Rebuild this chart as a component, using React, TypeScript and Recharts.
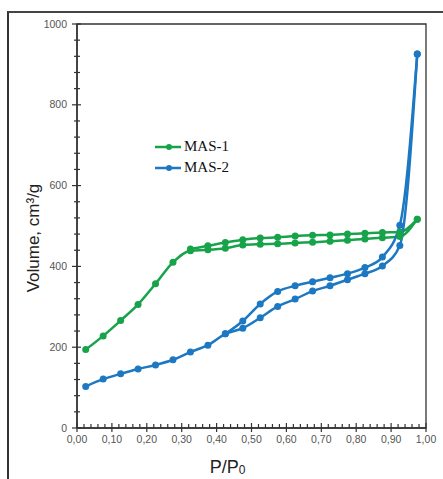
import { LineChart, Line, XAxis, YAxis, ReferenceArea, Legend, Label } from 'recharts';

// relative pressure points (adsorption / desorption branches)
const pAds = [0.025, 0.075, 0.125, 0.175, 0.225, 0.275, 0.325, 0.375, 0.425, 0.475,
  0.525, 0.575, 0.625, 0.675, 0.725, 0.775, 0.825, 0.875, 0.925, 0.975];
const pDes1 = [0.325, 0.375, 0.425, 0.475, 0.525, 0.575, 0.625, 0.675, 0.725, 0.775, 0.825, 0.875, 0.925, 0.975];
const pDes2 = [0.425, 0.475, 0.525, 0.575, 0.625, 0.675, 0.725, 0.775, 0.825, 0.875, 0.925, 0.975];

// volume, cm3/g
const mas1Ads = [194, 228, 266, 306, 357, 410, 439, 441, 445, 453, 455, 456, 458, 460, 462, 465, 468, 471, 474, 517];
const mas1Des = [443, 451, 459, 466, 470, 472, 475, 477, 478, 480, 482, 484, 485, 517];
const mas2Ads = [103, 121, 134, 146, 156, 169, 188, 205, 233, 247, 273, 301, 319, 339, 352, 367, 382, 401, 452, 926];
const mas2Des = [233, 265, 307, 338, 352, 362, 372, 382, 397, 423, 502, 926];

const seriesNames = ['MAS-1', 'MAS-2'];
const GREEN = '#17a34a';
const BLUE = '#1c78c2';

// axis ticks: labelled majors plus unlabelled minors
const yTicks = Array.from({ length: 26 }, (_, i) => i * 40);
const xTicks = Array.from({ length: 51 }, (_, i) => Math.round(i * 2) / 100);

const toRows = (ps: number[], vs: number[]) => ps.map((p, i) => ({ p, v: vs[i] }));

const TICK_SIZE = 4;
const TICK_MARGIN = 6;
const AXIS = '#333';
const tickFont = { fontFamily: 'Liberation Sans, Arial, sans-serif', fontSize: 10.5, fill: '#555' };

const YTick = (props: any) => {
  const { x, y, payload } = props;
  const ax = x + TICK_SIZE + TICK_MARGIN;
  const major = payload.value % 200 === 0;
  return (
    <g>
      <line x1={ax - (major ? 5 : 3)} x2={ax + (major ? 4 : 3)} y1={y} y2={y} stroke={AXIS} strokeWidth={1.2} />
      {major && (
        <text x={x} y={y} dy="0.35em" textAnchor="end" {...tickFont}>{payload.value}</text>
      )}
    </g>
  );
};

const XTick = (props: any) => {
  const { x, y, payload } = props;
  const ay = y - TICK_SIZE - TICK_MARGIN;
  const major = Math.round(payload.value * 100) % 10 === 0;
  return (
    <g>
      <line x1={x} x2={x} y1={ay - (major ? 5 : 4)} y2={ay + (major ? 4 : 0)} stroke={AXIS} strokeWidth={1.2} />
      {major && (
        <text x={x} y={ay + 15} textAnchor="middle" {...tickFont}>{payload.value.toFixed(2).replace('.', ',')}</text>
      )}
    </g>
  );
};

const LegendBox = () => (
  <div style={{ fontFamily: 'Liberation Serif, Times New Roman, serif', fontSize: 15, color: '#111' }}>
    {seriesNames.map((name, i) => (
      <div key={name} style={{ display: 'flex', alignItems: 'center', height: 21 }}>
        <svg width={27} height={10} style={{ marginRight: 2 }}>
          <line x1={0} x2={26} y1={5} y2={5} stroke={i === 0 ? GREEN : BLUE} strokeWidth={2.5} />
          <circle cx={14} cy={5} r={3} fill={i === 0 ? GREEN : BLUE} />
        </svg>
        <span>{name}</span>
      </div>
    ))}
  </div>
);

const PLabel = (props: any) => {
  const { viewBox } = props;
  return (
    <text x={viewBox.x + viewBox.width / 2 - 24} y={473} textAnchor="middle"
      fontFamily="Liberation Sans, Arial, sans-serif" fontSize={18} fill="#222">
      P/P<tspan fontSize={12} dy={1}>0</tspan>
    </text>
  );
};

export default function App() {
  const lineProps = { type: 'monotone' as const, dataKey: 'v', strokeWidth: 2.5, isAnimationActive: false };
  return (
    <div style={{ position: 'absolute', left: 0, top: 0, width: 443, height: 479, background: '#fff', overflow: 'hidden' }}>
      <div style={{ position: 'absolute', left: 7, top: 11, width: 460, height: 480, borderLeft: '2px solid #333', borderTop: '2px solid #444' }} />
      <div style={{ position: 'absolute', left: 0, top: 0 }}>
        <LineChart width={443} height={479} margin={{ top: 24, right: 17, bottom: 0, left: 0 }}>
          <XAxis type="number" dataKey="p" domain={[0, 1]} ticks={xTicks} interval={0}
            tick={<XTick />} tickLine={false} tickSize={TICK_SIZE} tickMargin={TICK_MARGIN}
            axisLine={{ stroke: AXIS, strokeWidth: 1.5 }} height={51} allowDuplicatedCategory={false}>
            <Label content={<PLabel />} />
          </XAxis>
          <YAxis type="number" domain={[0, 1000]} ticks={yTicks} interval={0}
            tick={<YTick />} tickLine={false} tickSize={TICK_SIZE} tickMargin={TICK_MARGIN}
            axisLine={{ stroke: AXIS, strokeWidth: 1.5 }} width={77}>
            <Label value="Volume, cm³/g" angle={-90} position="insideLeft" offset={33} dy={12}
              style={{ fontFamily: 'Liberation Sans, Arial, sans-serif', fontSize: 17, fill: '#222', textAnchor: 'middle' }} />
          </YAxis>
          <ReferenceArea x1={0} x2={1} y1={0} y2={1000} fill="none" stroke={AXIS} strokeWidth={1.3} ifOverflow="visible" />
          <Legend content={<LegendBox />} layout="horizontal" verticalAlign="middle" align="center"
            wrapperStyle={{ left: 155, top: 136, width: 100 }} />
          <Line {...lineProps} data={toRows(pAds, mas1Ads)} name="MAS-1" stroke={GREEN} dot={{ r: 3.5, fill: GREEN, strokeWidth: 0 }} />
          <Line {...lineProps} data={toRows(pDes1, mas1Des)} name="MAS-1 des" legendType="none" stroke={GREEN} dot={{ r: 3.5, fill: GREEN, strokeWidth: 0 }} />
          <Line {...lineProps} data={toRows(pAds, mas2Ads)} name="MAS-2" stroke={BLUE} dot={{ r: 3.5, fill: BLUE, strokeWidth: 0 }} />
          <Line {...lineProps} data={toRows(pDes2, mas2Des)} name="MAS-2 des" legendType="none" stroke={BLUE} dot={{ r: 3.5, fill: BLUE, strokeWidth: 0 }} />
        </LineChart>
      </div>
    </div>
  );
}
